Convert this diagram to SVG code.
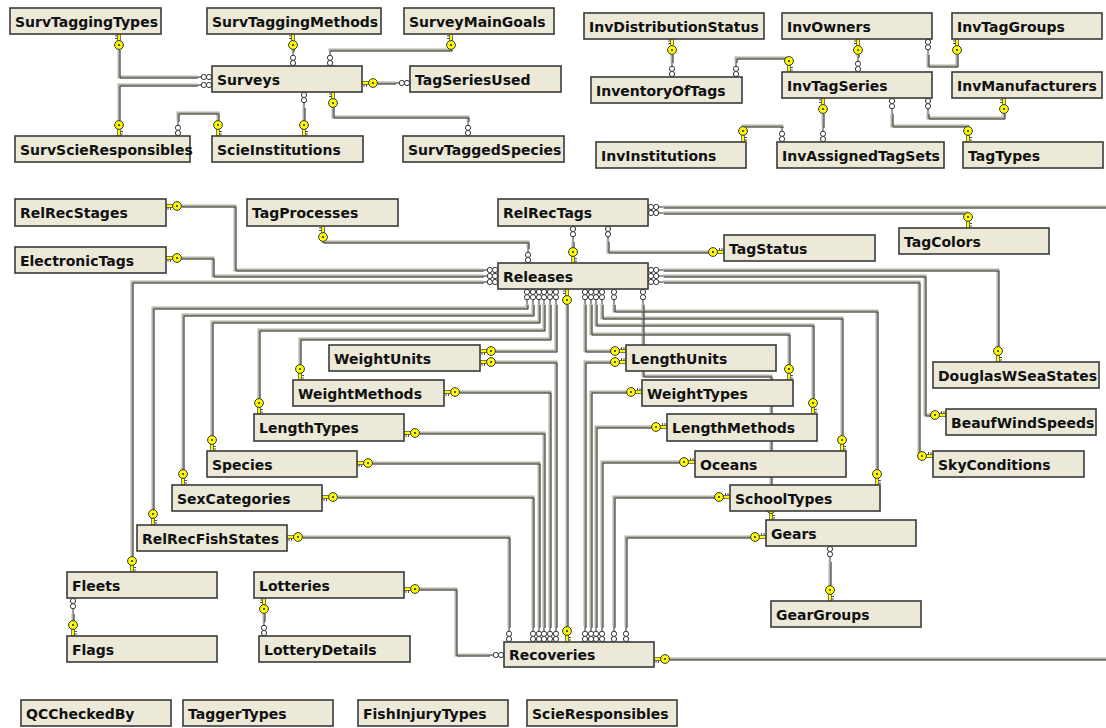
<svg xmlns="http://www.w3.org/2000/svg" xmlns:xlink="http://www.w3.org/1999/xlink" width="1106" height="728" viewBox="0 0 1106 728">
<style>
.box{fill:#ECE9D8;stroke:#3a3a3a;stroke-width:1.6}
.lbl{font-family:"DejaVu Sans",Verdana,sans-serif;font-weight:bold;font-size:14px;fill:#111}
.lt{fill:none;stroke:#b4b0a4;stroke-width:3}
.dk{fill:none;stroke:#3a3a3a;stroke-width:1}
</style>
<defs>
<g id="key">
<rect x="0" y="-1.5" width="7.5" height="3" fill="#ffff00" stroke="#444" stroke-width="0.7"/>
<path d="M2,1.5v2.4M4.5,1.5v2.4" stroke="#444" stroke-width="1"/>
<circle cx="11" cy="0" r="4.4" fill="#ffff00" stroke="#333" stroke-width="1"/>
<circle cx="11" cy="0" r="1.1" fill="#333"/>
</g>
<g id="inf">
<circle cx="3" cy="0" r="2.6" fill="#fff" stroke="#333" stroke-width="1"/>
<circle cx="8.2" cy="0" r="2.6" fill="#fff" stroke="#333" stroke-width="1"/>
<path d="M10.8,0H15" stroke="#333" stroke-width="1"/>
</g>
<g id="paths">
<path id="c1" d="M119,49V77H197"/>
<path id="c2" d="M119,121V85H197"/>
<path id="c3" d="M293,48V51"/>
<path id="c4" d="M451,49V50H330V51"/>
<path id="c5" d="M377,83H395"/>
<path id="c6" d="M304,107V121"/>
<path id="c7" d="M333,107V117H468V121"/>
<path id="c8" d="M178,121V113H218V121"/>
<path id="c9" d="M672,54V62"/>
<path id="c10" d="M736,62V58H789"/>
<path id="c11" d="M858,54V57"/>
<path id="c12" d="M928,54V66H957V54"/>
<path id="c13" d="M928,113V118H1004V113"/>
<path id="c14" d="M892,113V126H968V127"/>
<path id="c15" d="M823,113V127"/>
<path id="c16" d="M743,127V126H782V127"/>
<path id="c17" d="M181,206H235V270H483"/>
<path id="c18" d="M181,258H213V276H483"/>
<path id="c19" d="M483,282H132V557"/>
<path id="c20" d="M323,241V242H528V248"/>
<path id="c21" d="M573,241V248"/>
<path id="c22" d="M608,241V252H709"/>
<path id="c23" d="M663,207H1106"/>
<path id="c24" d="M663,213H968"/>
<path id="c25" d="M663,270H998V347"/>
<path id="c26" d="M663,276H925V415H931"/>
<path id="c27" d="M663,282H919V456"/>
<path id="c28" d="M527,304V308H153V510"/>
<path id="c29" d="M533,304V315H183V470"/>
<path id="c30" d="M539,304V322H212V436"/>
<path id="c31" d="M544,304V330H259V399"/>
<path id="c32" d="M550,304V339H300V365"/>
<path id="c33" d="M556,304V351H495"/>
<path id="c34" d="M567,304V627"/>
<path id="c35" d="M302,537H509V627"/>
<path id="c36" d="M337,497H533V627"/>
<path id="c37" d="M372,463H539V627"/>
<path id="c38" d="M419,433H544V627"/>
<path id="c39" d="M459,392H550V627"/>
<path id="c40" d="M495,362H556V627"/>
<path id="c41" d="M585,304V351H611"/>
<path id="c42" d="M591,304V334H789V365"/>
<path id="c43" d="M643,304V376H771V505"/>
<path id="c44" d="M596,304V325H813V399"/>
<path id="c45" d="M602,304V318H842V436"/>
<path id="c46" d="M614,304V311H877V470"/>
<path id="c52" d="M611,362H585V627"/>
<path id="c53" d="M627,392H591V627"/>
<path id="c54" d="M652,427H596V627"/>
<path id="c55" d="M680,462H602V627"/>
<path id="c56" d="M715,497H614V627"/>
<path id="c57" d="M751,537H626V627"/>
<path id="c47" d="M419,589H456V655H489"/>
<path id="c48" d="M669,659H1106"/>
<path id="c49" d="M264,613V621"/>
<path id="c50" d="M73,613V621"/>
<path id="c51" d="M830,561V586"/>
</g>
</defs>
<rect width="1106" height="728" fill="#fff"/>
<g id="connectors">
<use href="#paths" class="lt"/>
<use href="#paths" class="dk" transform="translate(1,1)"/>
<g id="ends">
<use href="#key" transform="translate(119,34) rotate(90)"/>
<use href="#inf" transform="translate(212,77) rotate(180)"/>
<use href="#key" transform="translate(119,136) rotate(-90)"/>
<use href="#inf" transform="translate(212,85) rotate(180)"/>
<use href="#key" transform="translate(293,34) rotate(90)"/>
<use href="#inf" transform="translate(293,66) rotate(-90)"/>
<use href="#key" transform="translate(451,34) rotate(90)"/>
<use href="#inf" transform="translate(330,66) rotate(-90)"/>
<use href="#key" transform="translate(362,83)"/>
<use href="#inf" transform="translate(410,83) rotate(180)"/>
<use href="#key" transform="translate(304,136) rotate(-90)"/>
<use href="#inf" transform="translate(304,92) rotate(90)"/>
<use href="#key" transform="translate(333,92) rotate(90)"/>
<use href="#inf" transform="translate(468,136) rotate(-90)"/>
<use href="#inf" transform="translate(178,136) rotate(-90)"/>
<use href="#key" transform="translate(218,136) rotate(-90)"/>
<use href="#key" transform="translate(672,39) rotate(90)"/>
<use href="#inf" transform="translate(672,77) rotate(-90)"/>
<use href="#inf" transform="translate(736,77) rotate(-90)"/>
<use href="#key" transform="translate(789,72) rotate(-90)"/>
<use href="#key" transform="translate(858,39) rotate(90)"/>
<use href="#inf" transform="translate(858,72) rotate(-90)"/>
<use href="#inf" transform="translate(928,39) rotate(90)"/>
<use href="#key" transform="translate(957,39) rotate(90)"/>
<use href="#inf" transform="translate(928,98) rotate(90)"/>
<use href="#key" transform="translate(1004,98) rotate(90)"/>
<use href="#inf" transform="translate(892,98) rotate(90)"/>
<use href="#key" transform="translate(968,142) rotate(-90)"/>
<use href="#key" transform="translate(823,98) rotate(90)"/>
<use href="#inf" transform="translate(823,142) rotate(-90)"/>
<use href="#key" transform="translate(743,142) rotate(-90)"/>
<use href="#inf" transform="translate(782,142) rotate(-90)"/>
<use href="#key" transform="translate(166,206)"/>
<use href="#inf" transform="translate(498,270) rotate(180)"/>
<use href="#key" transform="translate(166,258)"/>
<use href="#inf" transform="translate(498,276) rotate(180)"/>
<use href="#inf" transform="translate(498,282) rotate(180)"/>
<use href="#key" transform="translate(132,572) rotate(-90)"/>
<use href="#key" transform="translate(323,226) rotate(90)"/>
<use href="#inf" transform="translate(528,263) rotate(-90)"/>
<use href="#inf" transform="translate(573,226) rotate(90)"/>
<use href="#key" transform="translate(573,263) rotate(-90)"/>
<use href="#inf" transform="translate(608,226) rotate(90)"/>
<use href="#key" transform="translate(724,252) rotate(180)"/>
<use href="#inf" transform="translate(648,207)"/>
<use href="#inf" transform="translate(648,213)"/>
<use href="#key" transform="translate(968,228) rotate(-90)"/>
<use href="#inf" transform="translate(648,270)"/>
<use href="#key" transform="translate(998,362) rotate(-90)"/>
<use href="#inf" transform="translate(648,276)"/>
<use href="#key" transform="translate(946,415) rotate(180)"/>
<use href="#inf" transform="translate(648,282)"/>
<use href="#key" transform="translate(933,456) rotate(180)"/>
<use href="#inf" transform="translate(527,289) rotate(90)"/>
<use href="#key" transform="translate(153,525) rotate(-90)"/>
<use href="#inf" transform="translate(533,289) rotate(90)"/>
<use href="#key" transform="translate(183,485) rotate(-90)"/>
<use href="#inf" transform="translate(539,289) rotate(90)"/>
<use href="#key" transform="translate(212,451) rotate(-90)"/>
<use href="#inf" transform="translate(544,289) rotate(90)"/>
<use href="#key" transform="translate(259,414) rotate(-90)"/>
<use href="#inf" transform="translate(550,289) rotate(90)"/>
<use href="#key" transform="translate(300,380) rotate(-90)"/>
<use href="#inf" transform="translate(556,289) rotate(90)"/>
<use href="#key" transform="translate(480,351)"/>
<use href="#key" transform="translate(567,289) rotate(90)"/>
<use href="#key" transform="translate(567,642) rotate(-90)"/>
<use href="#key" transform="translate(287,537)"/>
<use href="#inf" transform="translate(509,642) rotate(-90)"/>
<use href="#key" transform="translate(322,497)"/>
<use href="#inf" transform="translate(533,642) rotate(-90)"/>
<use href="#key" transform="translate(357,463)"/>
<use href="#inf" transform="translate(539,642) rotate(-90)"/>
<use href="#key" transform="translate(404,433)"/>
<use href="#inf" transform="translate(544,642) rotate(-90)"/>
<use href="#key" transform="translate(444,392)"/>
<use href="#inf" transform="translate(550,642) rotate(-90)"/>
<use href="#key" transform="translate(480,362)"/>
<use href="#inf" transform="translate(556,642) rotate(-90)"/>
<use href="#inf" transform="translate(585,289) rotate(90)"/>
<use href="#key" transform="translate(626,351) rotate(180)"/>
<use href="#inf" transform="translate(591,289) rotate(90)"/>
<use href="#key" transform="translate(789,380) rotate(-90)"/>
<use href="#inf" transform="translate(643,289) rotate(90)"/>
<use href="#key" transform="translate(771,520) rotate(-90)"/>
<use href="#inf" transform="translate(596,289) rotate(90)"/>
<use href="#key" transform="translate(813,414) rotate(-90)"/>
<use href="#inf" transform="translate(602,289) rotate(90)"/>
<use href="#key" transform="translate(842,451) rotate(-90)"/>
<use href="#inf" transform="translate(614,289) rotate(90)"/>
<use href="#key" transform="translate(877,485) rotate(-90)"/>
<use href="#key" transform="translate(626,362) rotate(180)"/>
<use href="#inf" transform="translate(585,642) rotate(-90)"/>
<use href="#key" transform="translate(642,392) rotate(180)"/>
<use href="#inf" transform="translate(591,642) rotate(-90)"/>
<use href="#key" transform="translate(667,427) rotate(180)"/>
<use href="#inf" transform="translate(596,642) rotate(-90)"/>
<use href="#key" transform="translate(695,462) rotate(180)"/>
<use href="#inf" transform="translate(602,642) rotate(-90)"/>
<use href="#key" transform="translate(730,497) rotate(180)"/>
<use href="#inf" transform="translate(614,642) rotate(-90)"/>
<use href="#key" transform="translate(766,537) rotate(180)"/>
<use href="#inf" transform="translate(626,642) rotate(-90)"/>
<use href="#key" transform="translate(404,589)"/>
<use href="#inf" transform="translate(504,655) rotate(180)"/>
<use href="#key" transform="translate(654,659)"/>
<use href="#key" transform="translate(264,598) rotate(90)"/>
<use href="#inf" transform="translate(264,636) rotate(-90)"/>
<use href="#inf" transform="translate(73,598) rotate(90)"/>
<use href="#key" transform="translate(73,636) rotate(-90)"/>
<use href="#inf" transform="translate(830,546) rotate(90)"/>
<use href="#key" transform="translate(830,601) rotate(-90)"/>
</g>
</g>
<g id="SurvTaggingTypes"><rect class="box" x="10" y="8" width="151" height="26"/><text class="lbl" x="15" y="27">SurvTaggingTypes</text></g>
<g id="SurvTaggingMethods"><rect class="box" x="207" y="8" width="174" height="26"/><text class="lbl" x="212" y="27">SurvTaggingMethods</text></g>
<g id="SurveyMainGoals"><rect class="box" x="404" y="8" width="150" height="26"/><text class="lbl" x="409" y="27">SurveyMainGoals</text></g>
<g id="Surveys"><rect class="box" x="212" y="66" width="150" height="26"/><text class="lbl" x="217" y="85">Surveys</text></g>
<g id="TagSeriesUsed"><rect class="box" x="410" y="66" width="151" height="26"/><text class="lbl" x="415" y="85">TagSeriesUsed</text></g>
<g id="SurvScieResponsibles"><rect class="box" x="15" y="136" width="175" height="26"/><text class="lbl" x="20" y="155">SurvScieResponsibles</text></g>
<g id="ScieInstitutions"><rect class="box" x="212" y="136" width="151" height="26"/><text class="lbl" x="217" y="155">ScieInstitutions</text></g>
<g id="SurvTaggedSpecies"><rect class="box" x="403" y="136" width="161" height="26"/><text class="lbl" x="408" y="155">SurvTaggedSpecies</text></g>
<g id="InvDistributionStatus"><rect class="box" x="584" y="13" width="180" height="26"/><text class="lbl" x="589" y="32">InvDistributionStatus</text></g>
<g id="InventoryOfTags"><rect class="box" x="591" y="77" width="151" height="26"/><text class="lbl" x="596" y="96">InventoryOfTags</text></g>
<g id="InvInstitutions"><rect class="box" x="596" y="142" width="150" height="26"/><text class="lbl" x="601" y="161">InvInstitutions</text></g>
<g id="InvOwners"><rect class="box" x="782" y="13" width="150" height="26"/><text class="lbl" x="787" y="32">InvOwners</text></g>
<g id="InvTagGroups"><rect class="box" x="952" y="13" width="150" height="26"/><text class="lbl" x="957" y="32">InvTagGroups</text></g>
<g id="InvTagSeries"><rect class="box" x="782" y="72" width="150" height="26"/><text class="lbl" x="787" y="91">InvTagSeries</text></g>
<g id="InvManufacturers"><rect class="box" x="952" y="72" width="150" height="26"/><text class="lbl" x="957" y="91">InvManufacturers</text></g>
<g id="InvAssignedTagSets"><rect class="box" x="777" y="142" width="167" height="26"/><text class="lbl" x="782" y="161">InvAssignedTagSets</text></g>
<g id="TagTypes"><rect class="box" x="963" y="142" width="140" height="26"/><text class="lbl" x="968" y="161">TagTypes</text></g>
<g id="RelRecStages"><rect class="box" x="15" y="199" width="151" height="27"/><text class="lbl" x="20" y="218">RelRecStages</text></g>
<g id="ElectronicTags"><rect class="box" x="15" y="247" width="151" height="26"/><text class="lbl" x="20" y="266">ElectronicTags</text></g>
<g id="TagProcesses"><rect class="box" x="247" y="199" width="151" height="27"/><text class="lbl" x="252" y="218">TagProcesses</text></g>
<g id="RelRecTags"><rect class="box" x="498" y="199" width="150" height="27"/><text class="lbl" x="503" y="218">RelRecTags</text></g>
<g id="TagStatus"><rect class="box" x="724" y="235" width="151" height="26"/><text class="lbl" x="729" y="254">TagStatus</text></g>
<g id="TagColors"><rect class="box" x="899" y="228" width="150" height="26"/><text class="lbl" x="904" y="247">TagColors</text></g>
<g id="Releases"><rect class="box" x="498" y="263" width="150" height="26"/><text class="lbl" x="503" y="282">Releases</text></g>
<g id="WeightUnits"><rect class="box" x="329" y="345" width="151" height="26"/><text class="lbl" x="334" y="364">WeightUnits</text></g>
<g id="LengthUnits"><rect class="box" x="626" y="345" width="150" height="26"/><text class="lbl" x="631" y="364">LengthUnits</text></g>
<g id="WeightMethods"><rect class="box" x="293" y="380" width="151" height="26"/><text class="lbl" x="298" y="399">WeightMethods</text></g>
<g id="WeightTypes"><rect class="box" x="642" y="380" width="151" height="26"/><text class="lbl" x="647" y="399">WeightTypes</text></g>
<g id="LengthTypes"><rect class="box" x="254" y="414" width="150" height="27"/><text class="lbl" x="259" y="433">LengthTypes</text></g>
<g id="LengthMethods"><rect class="box" x="667" y="414" width="150" height="27"/><text class="lbl" x="672" y="433">LengthMethods</text></g>
<g id="Species"><rect class="box" x="207" y="451" width="150" height="26"/><text class="lbl" x="212" y="470">Species</text></g>
<g id="Oceans"><rect class="box" x="695" y="451" width="151" height="26"/><text class="lbl" x="700" y="470">Oceans</text></g>
<g id="SexCategories"><rect class="box" x="172" y="485" width="150" height="26"/><text class="lbl" x="177" y="504">SexCategories</text></g>
<g id="SchoolTypes"><rect class="box" x="730" y="485" width="150" height="26"/><text class="lbl" x="735" y="504">SchoolTypes</text></g>
<g id="RelRecFishStates"><rect class="box" x="137" y="525" width="150" height="26"/><text class="lbl" x="142" y="544">RelRecFishStates</text></g>
<g id="Gears"><rect class="box" x="766" y="520" width="150" height="26"/><text class="lbl" x="771" y="539">Gears</text></g>
<g id="DouglasWSeaStates"><rect class="box" x="933" y="362" width="166" height="26"/><text class="lbl" x="938" y="381">DouglasWSeaStates</text></g>
<g id="BeaufWindSpeeds"><rect class="box" x="946" y="409" width="150" height="26"/><text class="lbl" x="951" y="428">BeaufWindSpeeds</text></g>
<g id="SkyConditions"><rect class="box" x="933" y="451" width="151" height="26"/><text class="lbl" x="938" y="470">SkyConditions</text></g>
<g id="Fleets"><rect class="box" x="67" y="572" width="150" height="26"/><text class="lbl" x="72" y="591">Fleets</text></g>
<g id="Flags"><rect class="box" x="67" y="636" width="150" height="26"/><text class="lbl" x="72" y="655">Flags</text></g>
<g id="Lotteries"><rect class="box" x="254" y="572" width="150" height="26"/><text class="lbl" x="259" y="591">Lotteries</text></g>
<g id="LotteryDetails"><rect class="box" x="259" y="636" width="151" height="26"/><text class="lbl" x="264" y="655">LotteryDetails</text></g>
<g id="Recoveries"><rect class="box" x="504" y="642" width="150" height="25"/><text class="lbl" x="509" y="660">Recoveries</text></g>
<g id="GearGroups"><rect class="box" x="771" y="601" width="150" height="26"/><text class="lbl" x="776" y="620">GearGroups</text></g>
<g id="QCCheckedBy"><rect class="box" x="21" y="700" width="150" height="26"/><text class="lbl" x="26" y="719">QCCheckedBy</text></g>
<g id="TaggerTypes"><rect class="box" x="183" y="700" width="150" height="26"/><text class="lbl" x="188" y="719">TaggerTypes</text></g>
<g id="FishInjuryTypes"><rect class="box" x="358" y="700" width="150" height="26"/><text class="lbl" x="363" y="719">FishInjuryTypes</text></g>
<g id="ScieResponsibles"><rect class="box" x="527" y="700" width="150" height="26"/><text class="lbl" x="532" y="719">ScieResponsibles</text></g>
</svg>
